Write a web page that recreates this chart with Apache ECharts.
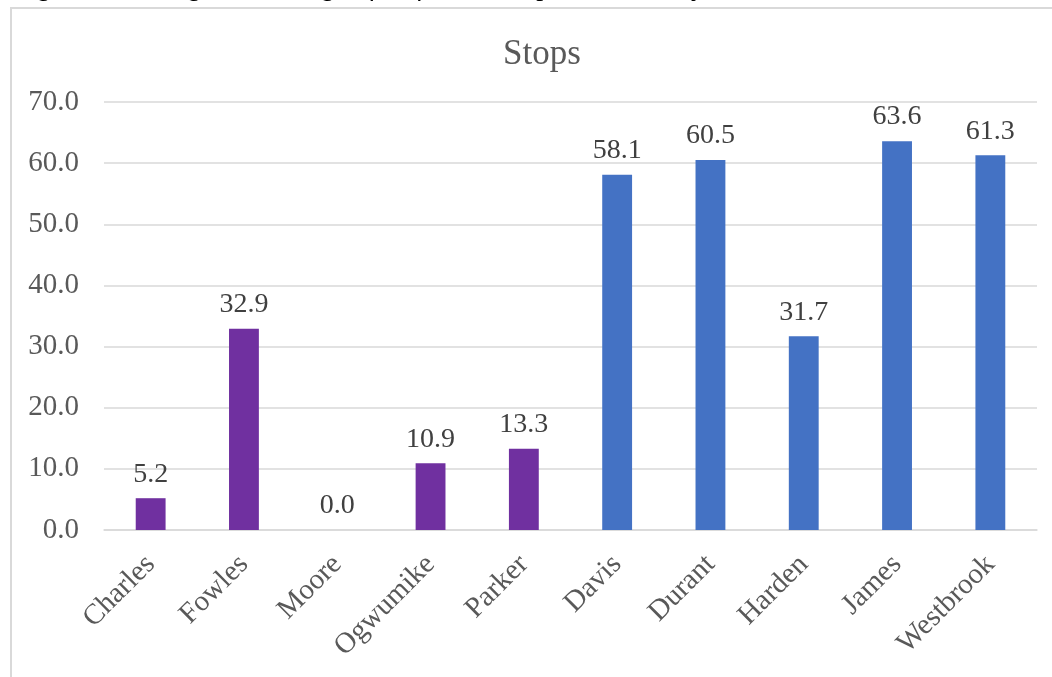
<!DOCTYPE html>
<html>
<head>
<meta charset="utf-8">
<style>
html,body{margin:0;padding:0;background:#fff;}
#chart{width:1052px;height:677px;}
</style>
<script src="https://cdn.jsdelivr.net/npm/echarts@6/dist/echarts.min.js"></script>
</head>
<body>
<div id="chart"></div>
<script>
const categories = ['Charles','Fowles','Moore','Ogwumike','Parker','Davis','Durant','Harden','James','Westbrook'];
const stops = [5.2, 32.9, 0.0, 10.9, 13.3, 58.1, 60.5, 31.7, 63.6, 61.3];
const barColors = ['#7030A0','#7030A0','#7030A0','#7030A0','#7030A0','#4472C4','#4472C4','#4472C4','#4472C4','#4472C4'];
const yTicks = {min: 0, max: 70, interval: 10};
const titleText = 'Stops';
const captionText = 'Figure 4. Average Percentage of Defensive Stops Achieved by Athlete';

const chart = echarts.init(document.getElementById('chart'), null, {renderer: 'canvas'});
const serif = '"Liberation Serif", "Times New Roman", serif';
chart.setOption({
  animation: false,
  backgroundColor: '#ffffff',
  title: {
    text: titleText, left: 498, top: 32,
    textStyle: {fontFamily: serif, fontSize: 35, fontWeight: 'normal', color: '#595959'}
  },
  graphic: [
    {type: 'rect', shape: {x: 11, y: 8, width: 1100, height: 700},
     style: {fill: 'none', stroke: '#d9d9d9', lineWidth: 2}, silent: true, z: -1},
    {type: 'text', left: 14, top: -26,
     style: {text: captionText, font: 'italic 28px ' + serif, fill: '#000000'}, silent: true}
  ],
  grid: {left: 104, right: 15, top: 102, bottom: 147},
  xAxis: {
    type: 'category', data: categories,
    axisLine: {show: true, lineStyle: {color: '#d9d9d9', width: 1.5}},
    axisTick: {show: false},
    axisLabel: {rotate: 45, interval: 0, margin: 30, fontFamily: serif, fontSize: 29, color: '#595959'}
  },
  yAxis: {
    type: 'value', min: yTicks.min, max: yTicks.max, interval: yTicks.interval,
    axisLine: {show: false}, axisTick: {show: false},
    splitLine: {lineStyle: {color: '#d9d9d9', width: 1.5}},
    axisLabel: {margin: 25, fontFamily: serif, fontSize: 29, color: '#595959',
      formatter: v => v.toFixed(1)}
  },
  series: [{
    type: 'bar',
    data: stops.map((v, i) => ({value: v, itemStyle: {color: barColors[i]}})),
    barWidth: '32%',
    label: {show: true, position: 'top', distance: 10, fontFamily: serif, fontSize: 28, color: '#404040',
      formatter: p => p.value.toFixed(1)}
  }]
});
</script>
</body>
</html>
